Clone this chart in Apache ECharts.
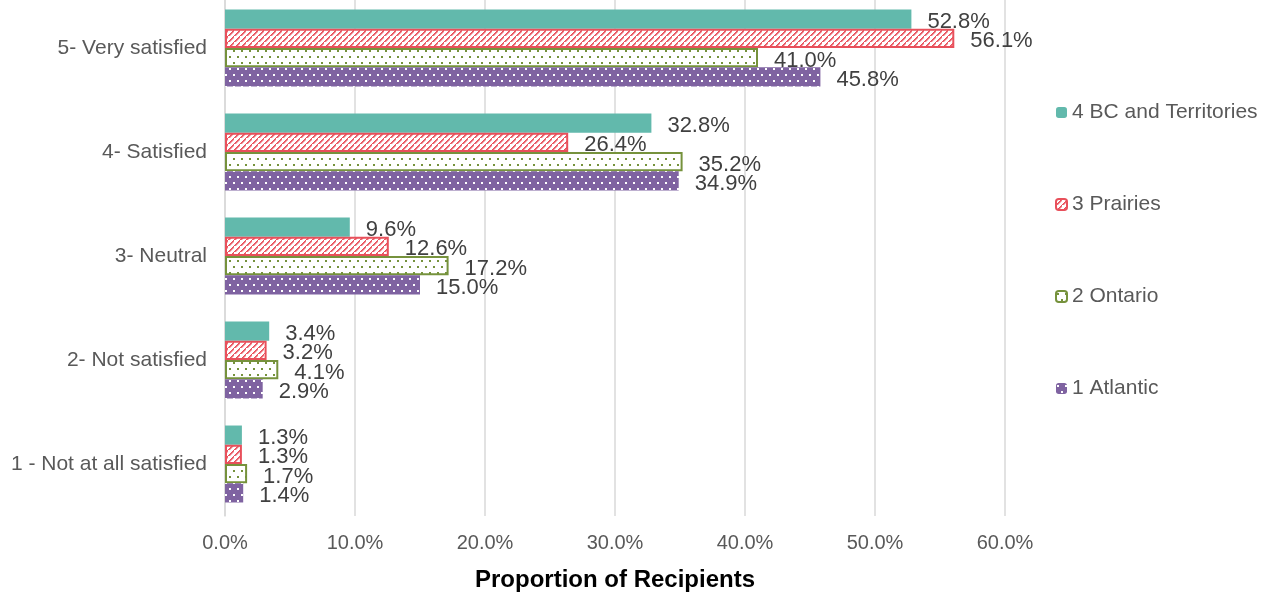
<!DOCTYPE html>
<html>
<head>
<meta charset="utf-8">
<script src="https://cdn.jsdelivr.net/npm/echarts@6/dist/echarts.min.js"></script>
<style>
  html, body { margin: 0; padding: 0; background: #fff; }
  #main { width: 1275px; height: 593px; }
</style>
</head>
<body>
<div id="main"></div>
<script>
// categories from bottom to top
const categories = ['1 - Not at all satisfied', '2- Not satisfied', '3- Neutral', '4- Satisfied', '5- Very satisfied']
const bcTerritories = [1.3, 3.4, 9.6, 32.8, 52.8]
const prairies = [1.3, 3.2, 12.6, 26.4, 56.1]
const ontario = [1.7, 4.1, 17.2, 35.2, 41.0]
const atlantic = [1.4, 2.9, 15.0, 34.9, 45.8]
const legendOrder = ['4 BC and Territories', '3 Prairies', '2 Ontario', '1 Atlantic']

// small canvas patterns for the hatched / dotted bars
function makePattern(bg, fg, kind) {
  const c = document.createElement('canvas')
  const w = kind === 'hatch' ? 6 : 8
  const h = kind === 'hatch' ? 6 : 12
  c.width = w
  c.height = h
  const ctx = c.getContext('2d')
  ctx.fillStyle = bg
  ctx.fillRect(0, 0, w, h)
  ctx.fillStyle = fg
  if (kind === 'hatch') {
    // "/" diagonal
    for (let i = 0; i < w; i++) {
      ctx.fillRect(i, h - 1 - i, 1.6, 1.6)
    }
  } else {
    ctx.fillRect(1, 2, 2, 2)
    ctx.fillRect(5, 8, 2, 2)
  }
  return { image: c, repeat: 'repeat' }
}

const dom = document.getElementById('main')
const myChart = echarts.init(dom)

const labelStyle = {
  show: true,
  position: 'right',
  distance: 16,
  offset: [0, 3],
  fontSize: 22,
  color: '#404040',
  formatter: p => p.value.toFixed(1) + '%'
}

const option = {
  animation: false,
  textStyle: { fontFamily: 'Liberation Sans, Arial, sans-serif' },
  grid: { left: 225, right: 270, top: -4, bottom: 77, containLabel: false, outerBoundsMode: 'none' },
  legend: {
    orient: 'vertical',
    left: 1050,
    top: 97,
    itemWidth: 11,
    itemHeight: 11,
    itemGap: 71,
    textStyle: { fontSize: 21, color: '#595959' },
    data: legendOrder
  },
  xAxis: {
    type: 'value',
    min: 0,
    max: 60,
    interval: 10,
    name: 'Proportion of Recipients',
    nameLocation: 'middle',
    nameGap: 52,
    nameTextStyle: { fontSize: 24, fontWeight: 'bold', color: '#000' },
    axisLabel: { fontSize: 20, color: '#595959', margin: 17, formatter: v => v.toFixed(1) + '%' },
    axisLine: { show: false },
    axisTick: { show: false },
    splitLine: { lineStyle: { color: '#d9d9d9', width: 1.5 } }
  },
  yAxis: {
    type: 'category',
    data: categories,
    axisLabel: { fontSize: 21, color: '#595959', margin: 18 },
    axisLine: { lineStyle: { color: '#d9d9d9', width: 1.5 } },
    axisTick: { show: false }
  },
  series: [
    {
      name: '4 BC and Territories',
      type: 'bar',
      data: bcTerritories,
      barGap: '0%',
      barCategoryGap: '26%',
      itemStyle: { color: '#62b9ac' },
      label: labelStyle
    },
    {
      name: '3 Prairies',
      type: 'bar',
      data: prairies,
      barGap: '0%',
      barCategoryGap: '26%',
      itemStyle: { color: makePattern('#ffffff', '#e8505b', 'hatch'), borderColor: '#e8505b', borderWidth: 2 },
      label: labelStyle
    },
    {
      name: '2 Ontario',
      type: 'bar',
      data: ontario,
      barGap: '0%',
      barCategoryGap: '26%',
      itemStyle: { color: makePattern('#ffffff', '#76923c', 'dot'), borderColor: '#76923c', borderWidth: 2 },
      label: labelStyle
    },
    {
      name: '1 Atlantic',
      type: 'bar',
      data: atlantic,
      barGap: '0%',
      barCategoryGap: '26%',
      itemStyle: { color: makePattern('#7f63a1', '#ffffff', 'dot') },
      label: labelStyle
    }
  ]
}

myChart.setOption(option)
</script>
</body>
</html>
